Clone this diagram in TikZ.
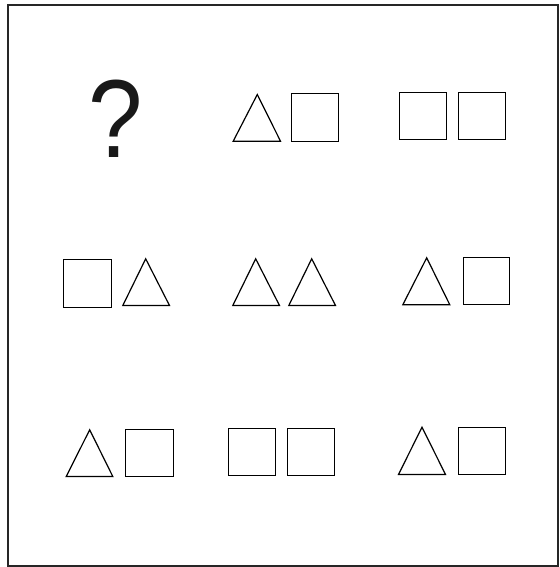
\documentclass[tikz,border=0pt]{standalone}
\usepackage{fontspec}
\setmainfont{Liberation Sans}
\begin{document}
\begin{tikzpicture}[x=1pt,y=-1pt,
  figline/.style={draw=black,line width=1.2pt,line join=miter},
  frameline/.style={draw=black!85,line width=1.4pt}]
\useasboundingbox (0,0) rectangle (559,567);
\fill[white] (0,0) rectangle (559,567);
\draw[frameline] (8,5) rectangle (558,566);
% question mark
\node[anchor=base,inner sep=0pt,text=black!90] (q) at (115.5,157.3) {\scalebox{0.88}[1]{\fontsize{111}{111}\selectfont ?}};
% row 1
\draw[figline] (233.2,141.2) -- (257.3,94.5) -- (280.5,141.2) -- cycle;
\draw[figline] (291.5,93.8) rectangle (338.8,141.2);
\draw[figline] (399.5,92.2) rectangle (446.5,139.2);
\draw[figline] (458.8,92.2) rectangle (505.8,139.2);
% row 2
\draw[figline] (63.8,259.8) rectangle (111.2,307.8);
\draw[figline] (122.8,305.5) -- (145.7,258.8) -- (169.5,305.5) -- cycle;
\draw[figline] (232.8,305.5) -- (255.7,258.8) -- (279.5,305.5) -- cycle;
\draw[figline] (288.8,305.5) -- (311.7,258.8) -- (335.5,305.5) -- cycle;
\draw[figline] (402.8,304.8) -- (426.7,257.8) -- (449.8,304.8) -- cycle;
\draw[figline] (463.2,257.2) rectangle (509.8,304.5);
% row 3
\draw[figline] (66.2,476.5) -- (89.7,429.8) -- (112.8,476.5) -- cycle;
\draw[figline] (125.8,429.8) rectangle (173.2,476.8);
\draw[figline] (228.2,428.8) rectangle (275.2,475.5);
\draw[figline] (287.2,428.8) rectangle (334.5,475.5);
\draw[figline] (398.5,474.5) -- (422,427.2) -- (445.5,474.5) -- cycle;
\draw[figline] (458.5,427.2) rectangle (505.8,474.2);
\end{tikzpicture}
\end{document}
